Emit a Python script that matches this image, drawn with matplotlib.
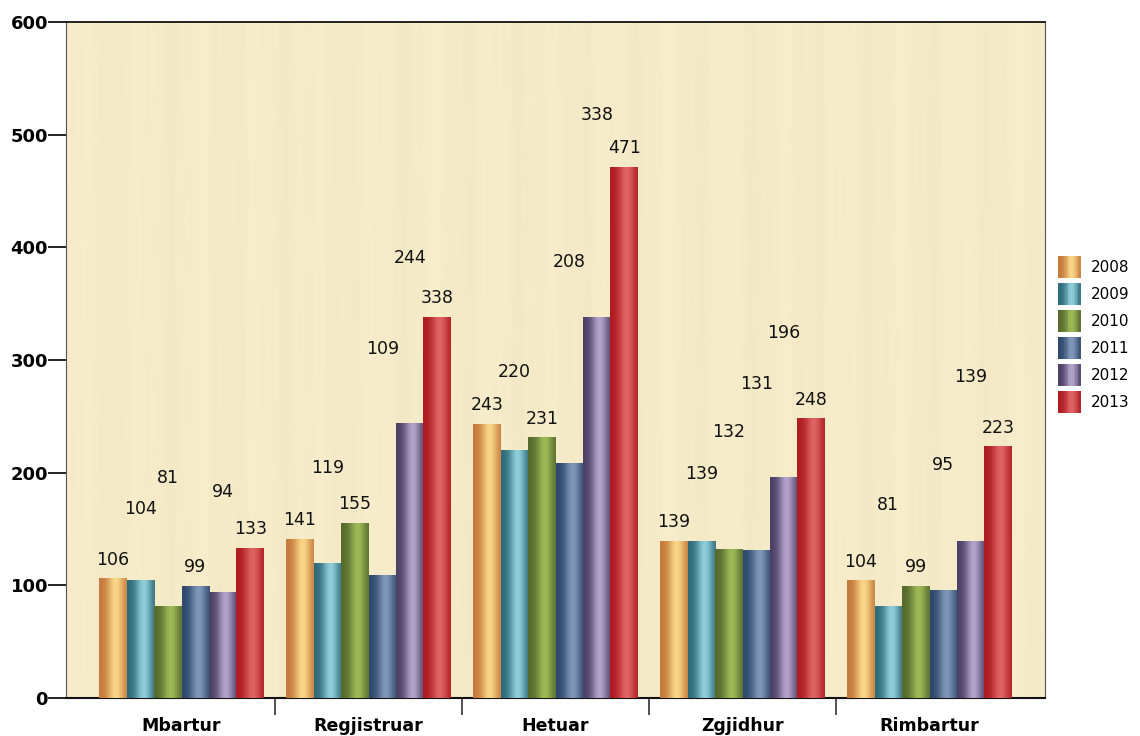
import numpy as np
import matplotlib
matplotlib.use("Agg")
import matplotlib.pyplot as plt
from matplotlib.patches import Rectangle
from matplotlib.legend_handler import HandlerBase
from matplotlib.colors import to_rgb

# data
categories = ["Mbartur", "Regjistruar", "Hetuar", "Zgjidhur", "Rimbartur"]
years = ["2008", "2009", "2010", "2011", "2012", "2013"]
v2008 = [106, 141, 243, 139, 104]
v2009 = [104, 119, 220, 139, 81]
v2010 = [81, 155, 231, 132, 99]
v2011 = [99, 109, 208, 131, 95]
v2012 = [94, 244, 338, 196, 139]
v2013 = [133, 338, 471, 248, 223]
series = [v2008, v2009, v2010, v2011, v2012, v2013]

# extra lift of the value labels (pixels), the source chart staggers them
lift2008 = [0, 0, 0, 0, 0]
lift2009 = [53, 77, 59, 48, 83]
lift2010 = [110, 0, 0, 98, 0]
lift2011 = [0, 207, 183, 147, 107]
lift2012 = [81, 146, 183, 125, 145]
lift2013 = [0, 0, 0, 0, 0]
lifts = [lift2008, lift2009, lift2010, lift2011, lift2012, lift2013]

# (dark edge, light highlight) per year
shades = [("#c4783a", "#f9d688"),
          ("#2d6978", "#8ecdda"),
          ("#55692d", "#9cb956"),
          ("#2d486c", "#7e97b7"),
          ("#4b3e64", "#b3a3cb"),
          ("#ae1a1f", "#de6464")]


def gradient(dark, light, n=40):
    t = np.linspace(0, 1, n)
    w = np.exp(-((t - 0.6) / 0.3) ** 2)[:, None]
    return (1 - w) * np.array(to_rgb(dark)) + w * np.array(to_rgb(light))


class GradHandler(HandlerBase):
    # square swatch, 16pt tall, centred in the handle box
    def create_artists(self, legend, orig_handle, xdescent, ydescent,
                       width, height, fontsize, trans):
        cols = gradient(*orig_handle.grad, n=16)
        sw = width / len(cols)
        h = 16
        y0 = -ydescent + height / 2 - h / 2
        return [Rectangle((-xdescent + i * sw, y0), sw * 1.05, h,
                          facecolor=c, linewidth=0, transform=trans)
                for i, c in enumerate(cols)]


fig = plt.figure(figsize=(11.4, 7.36), dpi=100)
ax = fig.add_axes([66 / 1140, 38 / 736, 979 / 1140, 676 / 736])

x = np.arange(len(categories))
bw = 0.147
pad = 22 / 187
xlim = (-0.5 - pad, len(categories) - 0.5 + pad)

# parchment background with faint vertical streaks
nx, ny = 500, 150
gx = np.arange(nx)[None, :]
gy = np.arange(ny)[:, None]
streak = (0.5 * np.sin(gx * 0.21) + 0.3 * np.sin(gx * 0.53 + 2)
          + 0.25 * np.sin(gx * 1.3 + 0.5) * np.sin(gy * 0.08 + gx * 0.02))
base = np.array(to_rgb("#f6ebc8"))
tex = np.clip(base[None, None, :] + 0.012 * streak[:, :, None], 0, 1)
ax.imshow(tex, extent=(xlim[0], xlim[1], 0, 600), aspect="auto", zorder=0,
          interpolation="bilinear")

for i, (vals, lift, (dark, light)) in enumerate(zip(series, lifts, shades)):
    xs = x - 2.5 * bw + i * bw
    ax.bar(xs, vals, width=bw, color=light, linewidth=0, zorder=2)
    grad = gradient(dark, light)[None, :, :]
    for xi, v, lf in zip(xs, vals, lift):
        ax.imshow(grad, extent=(xi - bw / 2, xi + bw / 2, 0, v), aspect="auto",
                  zorder=3, interpolation="bilinear")
        ax.annotate(str(v), (xi, v), xytext=(0, 19 + lf),
                    textcoords="offset pixels", ha="center", va="center",
                    fontsize=12.5, color="#111111", zorder=4)

ax.set_xlim(*xlim)
ax.set_ylim(0, 600)
ax.set_yticks(range(0, 601, 100))
ax.tick_params(axis="y", length=13, width=1.3, pad=0, labelsize=13,
               color="#111111")
for lab in ax.get_yticklabels():
    lab.set_fontweight("bold")

ax.set_xticks(x)
ax.set_xticklabels(categories, fontsize=12.5, fontweight="bold")
ax.tick_params(axis="x", which="major", length=0, pad=14)
ax.set_xticks(x[:-1] + 0.5, minor=True)
ax.tick_params(axis="x", which="minor", length=12, width=1.2, color="#333333")

ax.spines["left"].set_color("#555555")
ax.spines["right"].set_color("#555555")
ax.spines["top"].set_color("#111111")
ax.spines["bottom"].set_color("#111111")
ax.spines["bottom"].set_linewidth(1.5)
ax.spines["top"].set_linewidth(1.3)

proxies = []
for dark, light in shades:
    p = Rectangle((0, 0), 1, 1)
    p.grad = (dark, light)
    proxies.append(p)
fig.legend(proxies, years, loc="center left",
           bbox_to_anchor=(1058 / 1140, 1 - 334.5 / 736),
           bbox_transform=fig.transFigure, frameon=False, fontsize=11,
           handlelength=1.5, handleheight=1.5, labelspacing=0.55,
           handletextpad=0.65, borderpad=0, borderaxespad=0,
           handler_map={Rectangle: GradHandler()})

fig.savefig("out.png", dpi=100)
